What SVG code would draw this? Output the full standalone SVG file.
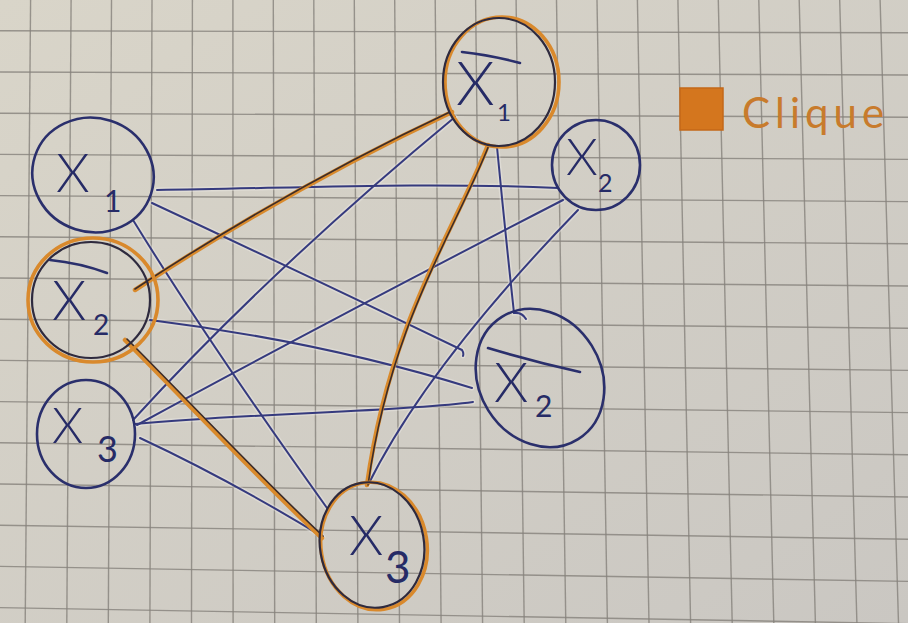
<svg xmlns="http://www.w3.org/2000/svg" width="908" height="623" viewBox="0 0 908 623">
<defs>
<linearGradient id="paper" x1="0" y1="0" x2="1" y2="1">
<stop offset="0" stop-color="#d9d5c9"/>
<stop offset="1" stop-color="#cac7c2"/>
</linearGradient>
<style>
.grid line{stroke:#86827c;stroke-width:1.4;opacity:0.8}
.halo{fill:none;stroke:#f4f2ee;stroke-width:5;stroke-opacity:0.35;stroke-linecap:round}
.edge{fill:none;stroke:#353a7e;stroke-width:2;stroke-linecap:round}
.oedge{fill:none;stroke:#d98a2c;stroke-width:4.5;stroke-linecap:round}
.ocore{fill:none;stroke:#3b2c2a;stroke-width:1.6;stroke-linecap:round}
.ring{fill:none;stroke:#2a2f6c;stroke-width:2.6}
.oring{fill:none;stroke:#d9892c;stroke-width:3.6}
.dring{fill:none;stroke:#2e2a3e;stroke-width:2.2}
.bar{fill:none;stroke:#2a2f6c;stroke-width:2.6;stroke-linecap:round}
.lbl{font-family:Lato,"Liberation Sans",sans-serif;font-weight:300;fill:#262b66}
.sub{font-family:Lato,"Liberation Sans",sans-serif;font-weight:400;fill:#262b66}
</style>
</defs>
<rect width="908" height="623" fill="url(#paper)"/>
<g class="grid">
<line x1="30.6" y1="0" x2="25.2" y2="623"/>
<line x1="71.1" y1="0" x2="66.8" y2="623"/>
<line x1="111.5" y1="0" x2="108.3" y2="623"/>
<line x1="152" y1="0" x2="149.9" y2="623"/>
<line x1="192.4" y1="0" x2="191.5" y2="623"/>
<line x1="232.9" y1="0" x2="233.1" y2="623"/>
<line x1="273.3" y1="0" x2="274.7" y2="623"/>
<line x1="313.8" y1="0" x2="316.3" y2="623"/>
<line x1="354.3" y1="0" x2="357.9" y2="623"/>
<line x1="394.7" y1="0" x2="399.5" y2="623"/>
<line x1="435.2" y1="0" x2="441.1" y2="623"/>
<line x1="475.6" y1="0" x2="482.6" y2="623"/>
<line x1="516.1" y1="0" x2="524.2" y2="623"/>
<line x1="556.5" y1="0" x2="565.8" y2="623"/>
<line x1="597" y1="0" x2="607.4" y2="623"/>
<line x1="637.4" y1="0" x2="649" y2="623"/>
<line x1="677.9" y1="0" x2="690.6" y2="623"/>
<line x1="718.3" y1="0" x2="732.2" y2="623"/>
<line x1="758.8" y1="0" x2="773.8" y2="623"/>
<line x1="799.2" y1="0" x2="815.4" y2="623"/>
<line x1="839.7" y1="0" x2="856.9" y2="623"/>
<line x1="880.1" y1="0" x2="898.5" y2="623"/>
<line x1="0" y1="30.8" x2="908" y2="32.8"/>
<line x1="0" y1="72" x2="908" y2="75"/>
<line x1="0" y1="113.2" x2="908" y2="117.2"/>
<line x1="0" y1="154.4" x2="908" y2="159.4"/>
<line x1="0" y1="195.6" x2="908" y2="201.6"/>
<line x1="0" y1="236.8" x2="908" y2="243.8"/>
<line x1="0" y1="278" x2="908" y2="286"/>
<line x1="0" y1="319.2" x2="908" y2="328.2"/>
<line x1="0" y1="360.4" x2="908" y2="370.4"/>
<line x1="0" y1="401.6" x2="908" y2="412.6"/>
<line x1="0" y1="442.8" x2="908" y2="454.8"/>
<line x1="0" y1="484" x2="908" y2="497"/>
<line x1="0" y1="525.2" x2="908" y2="539.2"/>
<line x1="0" y1="566.4" x2="908" y2="581.4"/>
<line x1="0" y1="607.6" x2="908" y2="623.6"/>
</g>
<g id="connectors">
<g id="blue-halo">
<path class="halo" d="M157,190 C300,188 420,182 558,188"/>
<path class="halo" d="M152,203 Q300,272 462,350 q2,3 1,6"/>
<path class="halo" d="M133,220 Q210,345 327,508"/>
<path class="halo" d="M150,320 C230,330 350,350 472,388"/>
<path class="halo" d="M133,420 Q270,270 455,117"/>
<path class="halo" d="M137,425 Q330,320 563,200"/>
<path class="halo" d="M135,424 C250,413 400,412 473,402"/>
<path class="halo" d="M140,438 Q230,480 323,537"/>
<path class="halo" d="M497,147 Q505,230 514,313 q8,-1 12,6"/>
<path class="halo" d="M578,210 C520,270 420,380 368,485"/>
</g>
<path id="e-x1-x2" class="edge" d="M157,190 C300,188 420,182 558,188"/>
<path id="e-x1-nx2b" class="edge" d="M152,203 Q300,272 462,350 q2,3 1,6"/>
<path id="e-x1-x3b" class="edge" d="M133,220 Q210,345 327,508"/>
<path id="e-nx2a-nx2b" class="edge" d="M150,320 C230,330 350,350 472,388"/>
<path id="e-x3a-nx1" class="edge" d="M133,420 Q270,270 455,117"/>
<path id="e-x3a-x2" class="edge" d="M137,425 Q330,320 563,200"/>
<path id="e-x3a-nx2b" class="edge" d="M135,424 C250,413 400,412 473,402"/>
<path id="e-x3a-x3b" class="edge" d="M140,438 Q230,480 323,537"/>
<path id="e-nx1-nx2b" class="edge" d="M497,147 Q505,230 514,313 q8,-1 12,6"/>
<path id="e-x2-x3b" class="edge" d="M578,210 C520,270 420,380 368,485"/>
<g id="clique-edges">
<path class="oedge" d="M135,290 Q290,188 452,112"/>
<path class="ocore" d="M135,289 Q290,187 452,111"/>
<path class="oedge" d="M125,340 C180,395 260,480 322,538"/>
<path class="ocore" d="M127,339 C182,394 262,479 323,536"/>
<path class="oedge" d="M488,145 C455,230 390,320 367,485"/>
<path class="ocore" d="M489,145 C456,230 391,320 368,485"/>
</g>
</g>
<g id="node-x1">
<ellipse class="ring" cx="93" cy="175" rx="61" ry="57" transform="rotate(18 93 175)"/>
<text class="lbl" x="56" y="192" font-size="54">X</text>
<text class="sub" x="104" y="212" font-size="30">1</text>
</g>
<g id="node-not-x2-left">
<ellipse class="oring" cx="93" cy="300" rx="65" ry="62"/>
<ellipse class="dring" cx="91" cy="300" rx="59" ry="58"/>
<path class="bar" d="M50,260 Q80,263 107,273"/>
<text class="lbl" x="52" y="320" font-size="55">X</text>
<text class="sub" x="93" y="335" font-size="28">2</text>
</g>
<g id="node-x3-left">
<ellipse class="ring" cx="86" cy="434" rx="49" ry="54"/>
<text class="lbl" x="52" y="443" font-size="50">X</text>
<text class="sub" x="97" y="462" font-size="36">3</text>
</g>
<g id="node-not-x1">
<ellipse class="oring" cx="502" cy="82" rx="57" ry="65"/>
<ellipse class="dring" cx="499" cy="82" rx="56" ry="64"/>
<path class="bar" d="M462,52 Q490,55 520,63"/>
<text class="lbl" x="456" y="105" font-size="62">X</text>
<text class="sub" x="497" y="121" font-size="24">1</text>
</g>
<g id="node-x2">
<ellipse class="ring" cx="596" cy="165" rx="44" ry="45"/>
<text class="lbl" x="566" y="175" font-size="51">X</text>
<text class="sub" x="598" y="192" font-size="25">2</text>
</g>
<g id="node-not-x2-right">
<ellipse class="ring" cx="540" cy="378" rx="72" ry="61" transform="rotate(58 540 378)"/>
<path class="bar" d="M488,348 Q535,362 580,372"/>
<text class="lbl" x="494" y="402" font-size="55">X</text>
<text class="sub" x="535" y="417" font-size="30">2</text>
</g>
<g id="node-x3-bottom">
<ellipse class="oring" cx="374" cy="546" rx="53" ry="64" transform="rotate(-9 374 546)"/>
<ellipse class="dring" cx="372" cy="545" rx="52" ry="63" transform="rotate(-10 372 545)"/>
<text class="lbl" x="349" y="555" font-size="55">X</text>
<text class="sub" x="385" y="583" font-size="44">3</text>
</g>
<g id="legend">
<rect x="680" y="88" width="43" height="42" fill="#d4761e" stroke="#c46818" stroke-width="1.5"/>
<text x="742" y="128" font-family="Lato,'Liberation Sans',sans-serif" font-weight="400" font-size="42" letter-spacing="5" fill="#c87b2c">Clique</text>
</g>
</svg>
